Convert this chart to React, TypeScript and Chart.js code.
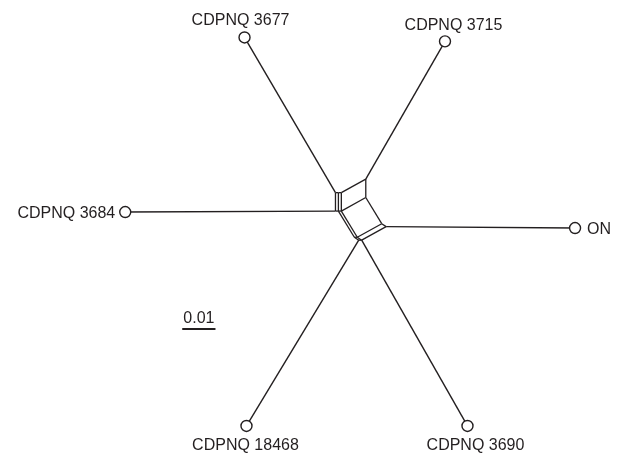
import { useEffect, useRef } from "react";
import { Chart, registerables } from "chart.js";

Chart.register(...registerables);

// ---- Data: splits-network layout (layout units; 34 units = 0.01 substitutions/site) ----
const taxa = ["CDPNQ 3677", "CDPNQ 3715", "ON", "CDPNQ 3690", "CDPNQ 18468", "CDPNQ 3684"];
const leafX = [243, 448, 581, 471, 245, 121];
const leafY = [31.5, 35.5, 228, 432, 432, 211.5];
const leafAttach = ["a1", "P2", "Qp", "R3p", "R2p", "b1"];

const nodeNames = ["a1", "a2", "a3", "b1", "b2", "b3", "P2", "P3", "R2", "R3", "Q", "Qp", "R3p", "R2p"];
const nodeX = [336, 339, 342, 336, 339, 342, 367, 367, 355.3, 358.3, 383.3, 387.8, 362.8, 359.8];
const nodeY = [191.5, 191.5, 191.5, 210.5, 210.5, 210.5, 177.5, 196.5, 237.5, 237.5, 223.5, 226.5, 240.5, 240.5];

const edgeFrom = ["a1", "a2", "b1", "b2", "a1", "a2", "a3", "a3", "b3", "P2", "b2", "b3", "R2", "P3", "R3", "Q", "R3", "R3p", "R2", "R2p"];
const edgeTo = ["a2", "a3", "b2", "b3", "b1", "b2", "b3", "P2", "P3", "P3", "R2", "R3", "R3", "Q", "Q", "Qp", "R3p", "Qp", "R2p", "R3p"];

const scaleBarValue = "0.01";
const scaleBarX = [179.3, 213.3];
const scaleBarY = [332, 332];

// ---- Styles ----
const INK = "#231f20";
const FONT = '16px "Liberation Sans", Arial, sans-serif';
const labelStyle: { dx: number; dy: number; align: CanvasTextAlign }[] = [
  { dx: -4, dy: -12.5, align: "center" },
  { dx: 8.5, dy: -11.5, align: "center" },
  { dx: 12, dy: 5.5, align: "left" },
  { dx: 8, dy: 24, align: "center" },
  { dx: -1, dy: 24, align: "center" },
  { dx: -10, dy: 5.5, align: "right" },
];

function nodePoint(name: string) {
  const i = nodeNames.indexOf(name);
  return { x: nodeX[i], y: nodeY[i] };
}

const labelPlugin = {
  id: "networkLabels",
  afterDatasetsDraw(chart: any) {
    const { ctx, scales } = chart;
    const xs = scales.x;
    const ys = scales.y;
    ctx.save();
    ctx.fillStyle = INK;
    ctx.font = FONT;
    ctx.textBaseline = "alphabetic";
    taxa.forEach((t, i) => {
      const st = labelStyle[i];
      ctx.textAlign = st.align;
      ctx.fillText(t, xs.getPixelForValue(leafX[i]) + st.dx, ys.getPixelForValue(leafY[i]) + st.dy);
    });
    ctx.textAlign = "center";
    const cx = (xs.getPixelForValue(scaleBarX[0]) + xs.getPixelForValue(scaleBarX[1])) / 2;
    ctx.fillText(scaleBarValue, cx, ys.getPixelForValue(scaleBarY[0]) - 6);
    ctx.restore();
  },
};

export default function App() {
  const ref = useRef<HTMLCanvasElement | null>(null);

  useEffect(() => {
    if (!ref.current) return;
    const datasets: any[] = [];
    // leaf circles (drawn on top)
    datasets.push({
      data: leafX.map((x, i) => ({ x, y: leafY[i] })),
      showLine: false,
      pointRadius: 5.5,
      pointBackgroundColor: "#ffffff",
      pointBorderColor: INK,
      pointBorderWidth: 1.4,
      order: -1,
    });
    // pendant edges
    leafX.forEach((x, i) => {
      const p = nodePoint(leafAttach[i]);
      datasets.push({
        data: [{ x, y: leafY[i] }, p],
        showLine: true,
        pointRadius: 0,
        borderColor: INK,
        borderWidth: 1.4,
      });
    });
    // internal edges
    edgeFrom.forEach((f, i) => {
      datasets.push({
        data: [nodePoint(f), nodePoint(edgeTo[i])],
        showLine: true,
        pointRadius: 0,
        borderColor: INK,
        borderWidth: 1.3,
      });
    });
    // scale bar
    datasets.push({
      data: scaleBarX.map((x, i) => ({ x, y: scaleBarY[i] })),
      showLine: true,
      pointRadius: 0,
      borderColor: INK,
      borderWidth: 2,
    });

    const chart = new Chart(ref.current, {
      type: "scatter",
      data: { datasets },
      options: {
        animation: false,
        responsive: false,
        devicePixelRatio: 1,
        layout: { padding: 0 },
        events: [],
        plugins: { legend: { display: false }, tooltip: { enabled: false } },
        scales: {
          x: { type: "linear", min: 0, max: 624, display: false },
          y: { type: "linear", min: 0, max: 460, reverse: true, display: false },
        },
      },
      plugins: [labelPlugin],
    });
    return () => chart.destroy();
  }, []);

  return (
    <div style={{ position: "absolute", left: 0, top: 0, width: 624, height: 460, background: "#fff" }}>
      <canvas ref={ref} width={624} height={460} />
    </div>
  );
}
